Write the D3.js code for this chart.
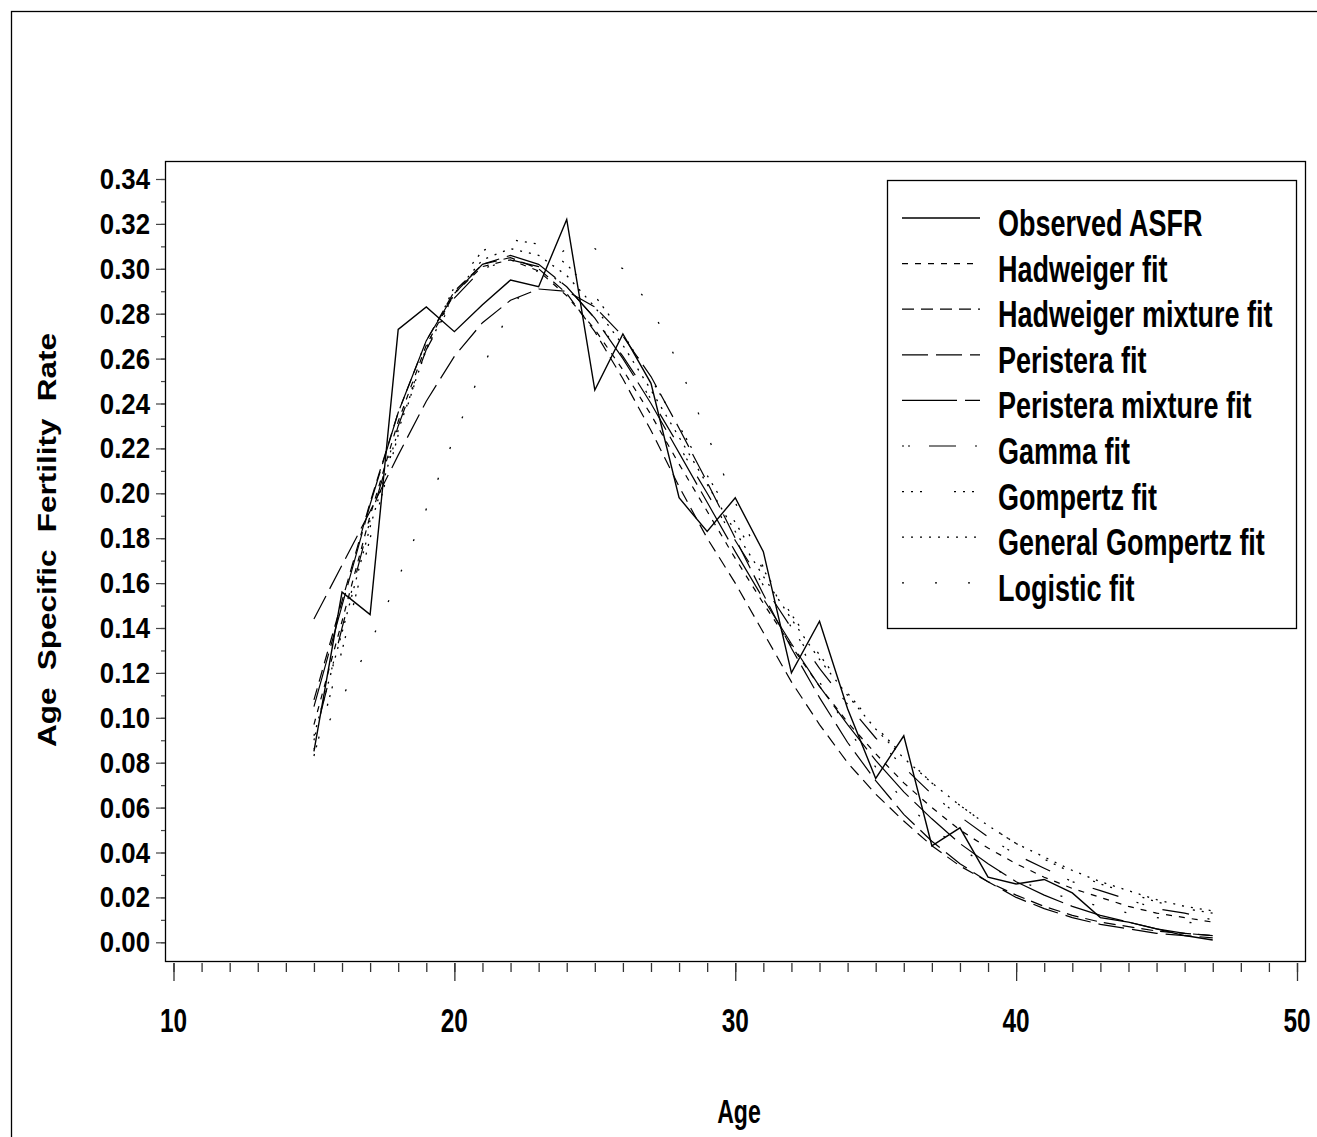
<!DOCTYPE html>
<html><head><meta charset="utf-8">
<script src="https://cdn.jsdelivr.net/npm/d3@7"></script>
<style>
body{margin:0;background:#fff}
svg{display:block}
text{font-family:"Liberation Sans",Arial,sans-serif;font-weight:bold;fill:#000}
</style>
</head><body>
<svg id="chart" width="1317" height="1137"></svg>
<script>
// ---------------- DATA ----------------
const ages = [15,16,17,18,19,20,21,22,23,24,25,26,27,28,29,30,31,32,33,34,35,36,37,38,39,40,41,42,43,44,45,46,47];

const observedASFR = [0.085,0.156,0.146,0.273,0.283,0.272,0.284,0.295,0.292,0.322,0.246,0.271,0.249,0.198,0.183,0.198,0.174,0.120,0.143,0.104,0.073,0.092,0.043,0.051,0.029,0.026,0.028,0.022,0.011,0.009,0.006,0.003,0.001];

const hadweigerFit = [0.097,0.143,0.190,0.232,0.266,0.289,0.301,0.304,0.299,0.288,0.273,0.255,0.235,0.213,0.192,0.171,0.151,0.132,0.114,0.098,0.084,0.071,0.060,0.050,0.042,0.035,0.029,0.024,0.020,0.016,0.013,0.011,0.009];

const hadweigerMixtureFit = [0.108,0.152,0.196,0.236,0.268,0.290,0.302,0.305,0.300,0.289,0.272,0.251,0.228,0.203,0.180,0.160,0.138,0.116,0.097,0.080,0.066,0.054,0.043,0.034,0.027,0.021,0.016,0.012,0.009,0.007,0.005,0.004,0.003];

const peristeraFit = [0.144,0.168,0.192,0.217,0.241,0.261,0.276,0.286,0.291,0.290,0.283,0.270,0.252,0.229,0.205,0.180,0.155,0.131,0.109,0.089,0.072,0.057,0.045,0.035,0.027,0.020,0.015,0.011,0.008,0.006,0.004,0.003,0.002];

const peristeraMixtureFit = [0.105,0.150,0.195,0.236,0.268,0.289,0.302,0.306,0.302,0.292,0.278,0.260,0.240,0.218,0.196,0.174,0.153,0.133,0.114,0.097,0.081,0.067,0.055,0.044,0.035,0.027,0.021,0.016,0.012,0.009,0.006,0.004,0.003];

const gammaFit = [0.090,0.140,0.188,0.230,0.264,0.287,0.300,0.304,0.301,0.292,0.278,0.261,0.242,0.221,0.200,0.179,0.159,0.140,0.122,0.106,0.091,0.078,0.066,0.056,0.047,0.039,0.033,0.027,0.023,0.019,0.015,0.013,0.010];

const gompertzFit = [0.083,0.130,0.180,0.226,0.265,0.292,0.308,0.313,0.311,0.302,0.288,0.271,0.251,0.230,0.208,0.187,0.166,0.146,0.128,0.111,0.096,0.083,0.071,0.061,0.052,0.044,0.037,0.031,0.026,0.022,0.018,0.015,0.013];

const generalGompertzFit = [0.092,0.138,0.185,0.228,0.264,0.289,0.304,0.309,0.306,0.297,0.283,0.266,0.246,0.225,0.204,0.183,0.163,0.144,0.126,0.110,0.095,0.082,0.071,0.061,0.052,0.044,0.038,0.032,0.027,0.023,0.019,0.016,0.014];

const logisticFit = [0.086,0.109,0.133,0.162,0.193,0.225,0.256,0.282,0.300,0.309,0.309,0.300,0.283,0.257,0.226,0.196,0.167,0.140,0.116,0.095,0.078,0.063,0.051,0.042,0.034,0.028,0.023,0.019,0.016,0.013,0.011,0.009,0.008];

const seriesNames = ["Observed ASFR","Hadweiger fit","Hadweiger mixture fit","Peristera fit","Peristera mixture fit","Gamma fit","Gompertz fit","General Gompertz fit","Logistic fit"];

const xTickValues = [10,20,30,40,50];
const yTickLabels = ["0.00","0.02","0.04","0.06","0.08","0.10","0.12","0.14","0.16","0.18","0.20","0.22","0.24","0.26","0.28","0.30","0.32","0.34"];

const xAxisTitle = "Age";
const yAxisTitle = "Age  Specific  Fertility  Rate";

// ---------------- STYLE / LAYOUT ----------------
const seriesValues = [observedASFR,hadweigerFit,hadweigerMixtureFit,peristeraFit,peristeraMixtureFit,gammaFit,gompertzFit,generalGompertzFit,logisticFit];
const dashStyles = [null,"6,7","12,7","26,8","55,8","2,4,2,19,27,19","2,7,2,7,2,32","2,7","2,31"];
const widths = [1.4,1.2,1.2,1.2,1.2,1.2,1.3,1.3,1.3];

const svg = d3.select("#chart");
const frame = {left:165, top:161, right:1305, bottom:961};

const x = d3.scaleLinear().domain([10,50]).range([173.5,1297]);
const y = d3.scaleLinear().domain([0,0.34]).range([942.3,179]);

// outer frame
svg.append("rect").attr("x",11.5).attr("y",11.5).attr("width",1340).attr("height",1160)
  .attr("fill","none").attr("stroke","#000").attr("stroke-width",1.3);

// plot frame
svg.append("rect").attr("x",frame.left+0.5).attr("y",frame.top+0.5)
  .attr("width",frame.right-frame.left).attr("height",frame.bottom-frame.top)
  .attr("fill","none").attr("stroke","#000").attr("stroke-width",1.3);

// x axis ticks
const xAxisG = svg.append("g").attr("transform",`translate(0,${frame.bottom+2})`);
const xMinor = d3.range(10,51,1);
xAxisG.call(d3.axisBottom(x).tickValues(xMinor).tickSize(9).tickFormat(""));
xAxisG.select(".domain").remove();
xAxisG.selectAll("line").attr("stroke","#333").attr("stroke-width",1.3);
const xMajorG = svg.append("g").attr("transform",`translate(0,${frame.bottom+2})`);
xMajorG.call(d3.axisBottom(x).tickValues(xTickValues).tickSize(18).tickFormat(""));
xMajorG.select(".domain").remove();
xMajorG.selectAll("line").attr("stroke","#333").attr("stroke-width",1.3);

// x tick labels
svg.append("g").selectAll("text").data(xTickValues).join("text")
  .attr("transform",d=>`translate(${x(d)},1032) scale(0.74,1)`)
  .attr("text-anchor","middle").attr("font-size",33).text(d=>d);

// y axis ticks
const yVals = yTickLabels.map(Number);
const yMinorVals = d3.range(0,35).map(i=>i*0.01);
const yMinorG = svg.append("g").attr("transform",`translate(${frame.left},0)`);
yMinorG.call(d3.axisLeft(y).tickValues(yMinorVals).tickSize(4).tickFormat(""));
yMinorG.select(".domain").remove();
yMinorG.selectAll("line").attr("stroke","#444").attr("stroke-width",1.2);
const yMajorG = svg.append("g").attr("transform",`translate(${frame.left},0)`);
yMajorG.call(d3.axisLeft(y).tickValues(yVals).tickSize(9).tickFormat(""));
yMajorG.select(".domain").remove();
yMajorG.selectAll("line").attr("stroke","#444").attr("stroke-width",1.2);

// y tick labels
svg.append("g").selectAll("text").data(yTickLabels).join("text")
  .attr("transform",d=>`translate(150,${y(+d)+10}) scale(0.86,1)`)
  .attr("text-anchor","end").attr("font-size",30).text(d=>d);

// axis titles
svg.append("text").attr("transform","translate(739,1123) scale(0.7,1)")
  .attr("text-anchor","middle").attr("font-size",33).text(xAxisTitle);
svg.append("text").attr("transform","translate(56,540) rotate(-90)")
  .attr("text-anchor","middle").attr("font-size",26)
  .attr("textLength",414).attr("lengthAdjust","spacingAndGlyphs")
  .style("white-space","pre").text(yAxisTitle);

// series lines
const line = d3.line().x((d,i)=>x(ages[i])).y(d=>y(d));
const plotG = svg.append("g");
seriesValues.forEach((vals,k)=>{
  plotG.append("path").datum(vals).attr("d",line)
    .attr("fill","none").attr("stroke","#000")
    .attr("stroke-width",widths[k])
    .attr("stroke-dasharray",dashStyles[k])
    .attr("stroke-linejoin","miter");
});

// legend
const legend = svg.append("g");
legend.append("rect").attr("x",887.5).attr("y",180.5).attr("width",409).attr("height",448)
  .attr("fill","#fff").attr("stroke","#000").attr("stroke-width",1.3);
seriesNames.forEach((name,k)=>{
  const base = 236 + k*45.6;
  legend.append("line").attr("x1",902).attr("x2",980).attr("y1",base-18).attr("y2",base-18)
    .attr("stroke","#000").attr("stroke-width",widths[k])
    .attr("stroke-dasharray",dashStyles[k]);
  legend.append("text").attr("transform",`translate(998,${base}) scale(0.75,1)`)
    .attr("font-size",36).text(name);
});
</script>
</body></html>
